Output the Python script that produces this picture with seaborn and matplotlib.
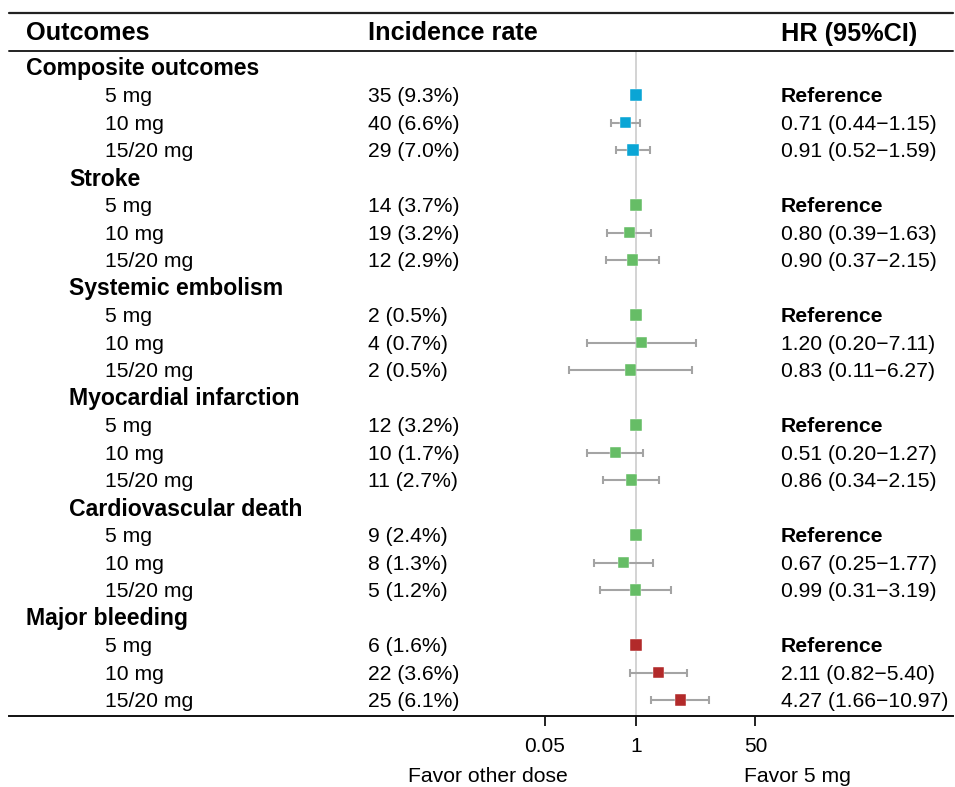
import numpy as np
import pandas as pd
import matplotlib
matplotlib.use("Agg")
import matplotlib.pyplot as plt
import matplotlib.transforms as mtransforms
import seaborn as sns

sns.set_theme(style="white")
plt.rcParams['font.family'] = ['Liberation Sans', 'DejaVu Sans']
plt.rcParams['text.color'] = 'black'
plt.rcParams['xtick.color'] = 'black'

# ---------------- data ----------------
groups = ["Composite outcomes", "Stroke", "Systemic embolism",
          "Myocardial infarction", "Cardiovascular death", "Major bleeding"]
group_indent = [False, True, True, True, True, False]
group_colors = ["blue", "green", "green", "green", "green", "red"]
doses = ["5 mg", "10 mg", "15/20 mg"]

events = [[35, 40, 29], [14, 19, 12], [2, 4, 2], [12, 10, 11], [9, 8, 5], [6, 22, 25]]
pcts = [[9.3, 6.6, 7.0], [3.7, 3.2, 2.9], [0.5, 0.7, 0.5], [3.2, 1.7, 2.7], [2.4, 1.3, 1.2], [1.6, 3.6, 6.1]]
hr = [[1.0, 0.71, 0.91], [1.0, 0.80, 0.90], [1.0, 1.20, 0.83],
      [1.0, 0.51, 0.86], [1.0, 0.67, 0.99], [1.0, 2.11, 4.27]]
lo = [[None, 0.44, 0.52], [None, 0.39, 0.37], [None, 0.20, 0.11],
      [None, 0.20, 0.34], [None, 0.25, 0.31], [None, 0.82, 1.66]]
hi = [[None, 1.15, 1.59], [None, 1.63, 2.15], [None, 7.11, 6.27],
      [None, 1.27, 2.15], [None, 1.77, 3.19], [None, 5.40, 10.97]]

ticks = [0.05, 1, 50]
tick_labels = ["0.05", "1", "50"]
palette = {"blue": "#0aa5d5", "green": "#66bd66", "red": "#b22a2a"}

# ---------------- build table ----------------
rows = []
r = 0
for g in range(len(groups)):
    rows.append(dict(row=r, kind="group", label=groups[g], indent=group_indent[g]))
    r += 1
    for d in range(3):
        rows.append(dict(row=r, kind="dose", label=doses[d], g=g, d=d,
                         ev=events[g][d], pct=pcts[g][d], hr=hr[g][d],
                         lo=lo[g][d], hi=hi[g][d], col=group_colors[g]))
        r += 1
df = pd.DataFrame(rows)
doses_df = df[df.kind == "dose"].copy()

# ---------------- figure ----------------
W, H = 955, 787
fig = plt.figure(figsize=(W / 100, H / 100), dpi=100)
ax_left, ax_right, ax_bot_px = 9, 953, 716
ax = fig.add_axes([ax_left / W, (H - ax_bot_px) / H, (ax_right - ax_left) / W, ax_bot_px / H])

px_per_dec = 70.3
x1_px = 636
ax.set_xscale("log")
ax.set_xlim(10 ** ((ax_left - x1_px) / px_per_dec), 10 ** ((ax_right - x1_px) / px_per_dec))
row0_px, row_step = 67.5, 27.5
ax.set_ylim((ax_bot_px - row0_px) / row_step, (0 - row0_px) / row_step)

def prow(p):
    return (p - row0_px) / row_step

# reference line
ax.plot([1, 1], [prow(51), prow(ax_bot_px)], color="#c8c8c8", lw=1.1, zorder=1)

# error bars
ci = doses_df.dropna(subset=["lo"])
ax.errorbar(ci.hr, ci.row, xerr=[ci.hr - ci.lo, ci.hi - ci.hr], fmt="none",
            ecolor="#a4a4a4", elinewidth=1.5, capsize=2.6, capthick=1.5, zorder=2)

sns.scatterplot(data=doses_df, x="hr", y="row", hue="col", palette=palette,
                marker="s", s=66, edgecolor="white", linewidth=0.3,
                legend=False, ax=ax, zorder=3)

# horizontal rules
trans = mtransforms.blended_transform_factory(ax.transAxes, ax.transData)
for ypx, lw in [(13, 1.6), (51, 1.4)]:
    ax.plot([0, 1], [prow(ypx), prow(ypx)], transform=trans, color="#222222",
            lw=lw, clip_on=False)

# axis styling
for s in ["top", "left", "right"]:
    ax.spines[s].set_visible(False)
ax.spines["bottom"].set_color("#111111")
ax.spines["bottom"].set_linewidth(1.4)
ax.set_yticks([])
ax.set_xticks(ticks)
ax.set_xticklabels(tick_labels, fontsize=15)
ax.minorticks_off()
ax.xaxis.set_minor_locator(matplotlib.ticker.NullLocator())
ax.tick_params(axis="x", direction="out", length=7, width=1.3, color="#111111",
               pad=8, bottom=True, labelcolor="black")
ax.set_xlabel("")
ax.set_ylabel("")

def fx(px):
    return (px - ax_left) / (ax_right - ax_left)

BODY = 15.2
toff = 1.5 / row_step  # small downward nudge so glyphs centre on the row
# headers
hy = prow(33.5)
ax.text(fx(26), hy, "Outcomes", transform=trans, fontsize=18.2, fontweight="bold", va="center", ha="left")
ax.text(fx(368), hy, "Incidence rate", transform=trans, fontsize=18.2, fontweight="bold", va="center", ha="left")
ax.text(fx(781), hy, "HR (95%CI)", transform=trans, fontsize=18.2, fontweight="bold", va="center", ha="left")

for _, rw in df.iterrows():
    y = rw.row + toff
    if rw.kind == "group":
        ax.text(fx(69 if rw.indent else 26), y, rw.label, transform=trans,
                fontsize=16.6, fontweight="bold", va="center", ha="left")
    else:
        ax.text(fx(105), y, rw.label, transform=trans, fontsize=BODY, va="center", ha="left")
        ax.text(fx(368), y, f"{int(rw.ev)} ({rw.pct:.1f}%)", transform=trans,
                fontsize=BODY, va="center", ha="left")
        if pd.isna(rw.lo):
            ax.text(fx(781), y, "Reference", transform=trans, fontsize=BODY,
                    fontweight="bold", va="center", ha="left")
        else:
            ax.text(fx(781), y, f"{rw.hr:.2f} ({rw.lo:.2f}\u2212{rw.hi:.2f})",
                    transform=trans, fontsize=BODY, va="center", ha="left")

# favor labels
fig.text(488 / W, 1 - 776.5 / H, "Favor other dose", fontsize=BODY, ha="center", va="center")
fig.text(797 / W, 1 - 776.5 / H, "Favor 5 mg", fontsize=BODY, ha="center", va="center")

fig.savefig("out.png", dpi=100)
